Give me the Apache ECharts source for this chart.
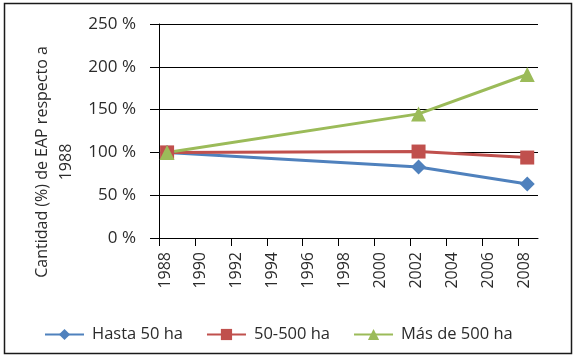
<!DOCTYPE html>
<html>
<head>
<meta charset="utf-8">
<script src="https://cdn.jsdelivr.net/npm/echarts@6/dist/echarts.min.js"></script>
<style>
html,body{margin:0;padding:0;background:#fff;}
#chart{width:574px;height:357px;}
</style>
</head>
<body>
<div id="chart"></div>
<script>
// Data (years)
const seriesNames = ['Hasta 50 ha', '50-500 ha', 'Más de 500 ha'];
const years = [1988.45, 2002.45, 2008.5];
const hasta50 = [100, 83, 63];
const de50a500 = [100, 101, 94];
const mas500 = [100, 145, 191];
const tickYears = [1988, 1990, 1992, 1994, 1996, 1998, 2000, 2002, 2004, 2006, 2008];
const yTicks = [0, 50, 100, 150, 200, 250];
const yTitle = 'Cantidad (%) de EAP respecto a\n1988';

const colors = ['#4F81BD', '#C0504D', '#9BBB59'];
const FONT = 'Open Sans';
const TXT = '#2b2b2b';
const X_MIN = tickYears[0];
const X_MAX = 2009.1;

function pairs(xs, ys) { return xs.map((x, i) => [x, ys[i]]); }

const chart = echarts.init(document.getElementById('chart'), null, {renderer: 'canvas'});
const baseGraphic = [
  {type: 'rect', shape: {x: 4.5, y: 3.5, width: 567, height: 350}, style: {fill: null, stroke: '#1a1a1a', lineWidth: 1.5}, silent: true},
  {type: 'text', x: 54, y: 162, rotation: Math.PI / 2,
   style: {text: yTitle, fontSize: 16, fontFamily: FONT, fill: TXT, align: 'center', verticalAlign: 'middle', lineHeight: 24}}
];
chart.setOption({
  animation: false,
  backgroundColor: '#ffffff',
  textStyle: {fontFamily: FONT},
  grid: {left: 159, right: 36, top: 24, bottom: 119},
  xAxis: {
    type: 'value',
    min: X_MIN, max: X_MAX, interval: 2,
    axisLine: {show: true, lineStyle: {color: '#000', width: 1}},
    axisTick: {show: true, length: 8, lineStyle: {color: '#000'}, customValues: tickYears},
    axisLabel: {show: false},
    splitLine: {show: false}
  },
  yAxis: {
    type: 'value',
    min: yTicks[0], max: yTicks[yTicks.length - 1], interval: 50,
    axisLine: {show: true, lineStyle: {color: '#000', width: 1}},
    axisTick: {show: true, length: 9, lineStyle: {color: '#000'}},
    axisLabel: {margin: 23, color: TXT, fontSize: 17, fontFamily: FONT, formatter: '{value} %'},
    splitLine: {show: true, lineStyle: {color: '#000', width: 1}}
  },
  legend: {
    data: seriesNames,
    left: 39, top: 321,
    itemWidth: 39, itemHeight: 14, itemGap: 23,
    textStyle: {color: TXT, fontSize: 16.5, fontFamily: FONT, padding: [0, 0, 0, 3]}
  },
  series: [
    {name: seriesNames[0], type: 'line', data: pairs(years, hasta50), color: colors[0],
     symbol: 'diamond', symbolSize: 15, lineStyle: {width: 3}, itemStyle: {color: colors[0]}},
    {name: seriesNames[1], type: 'line', data: pairs(years, de50a500), color: colors[1],
     symbol: 'rect', symbolSize: 14, lineStyle: {width: 3}, itemStyle: {color: colors[1]}},
    {name: seriesNames[2], type: 'line', data: pairs(years, mas500), color: colors[2],
     symbol: 'triangle', symbolSize: 15, lineStyle: {width: 3}, itemStyle: {color: colors[2]}}
  ],
  graphic: baseGraphic
});

// Vertical year labels, positioned through the x axis scale
const yearLabels = tickYears.map(yr => {
  const p = chart.convertToPixel({gridIndex: 0}, [yr, yTicks[0]]);
  return {
    type: 'text', x: p[0] + 6, y: p[1] + 14, rotation: Math.PI / 2, silent: true,
    style: {text: String(yr), fontSize: 16, fontFamily: FONT, fill: TXT, align: 'right', verticalAlign: 'middle'}
  };
});
chart.setOption({graphic: baseGraphic.concat(yearLabels)});
</script>
</body>
</html>
